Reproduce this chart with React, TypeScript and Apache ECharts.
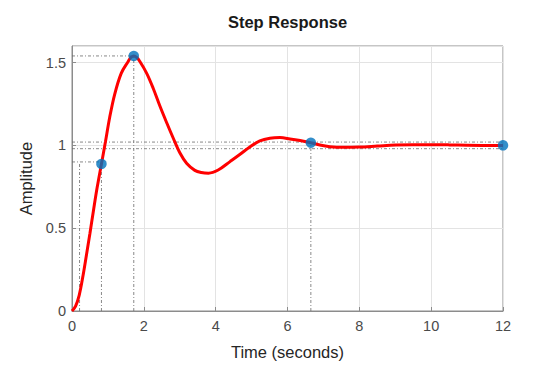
import React, { useEffect, useRef } from "react";
import * as echarts from "echarts";

const timeValues = [
  0, 0.1, 0.2, 0.3, 0.4, 0.5, 0.6, 0.7, 0.82, 0.93, 1.05, 1.19, 1.37, 1.56, 1.64,
  1.72, 1.8, 1.89, 2.08, 2.26, 2.45, 2.64, 2.82, 3.01, 3.19, 3.42, 3.6, 3.8, 4.07,
  4.4, 4.68, 4.96, 5.23, 5.51, 5.79, 6.07, 6.35, 6.65, 6.9, 7.18, 7.55, 8.0, 8.5,
  9.0, 9.5, 10.0, 10.5, 11.0, 11.5, 12.0,
];
const amplitudeValues = [
  0, 0.03, 0.095, 0.205, 0.335, 0.47, 0.61, 0.745, 0.888, 1.02, 1.17, 1.31, 1.435,
  1.505, 1.531, 1.54, 1.531, 1.506, 1.435, 1.345, 1.236, 1.135, 1.043, 0.952, 0.892,
  0.849, 0.836, 0.832, 0.851, 0.902, 0.946, 0.992, 1.027, 1.043, 1.047, 1.039,
  1.029, 1.016, 1.002, 0.992, 0.988, 0.99, 0.996, 1.002, 1.004, 1.004, 1.003,
  1.001, 1.0, 1.0,
];

const xTicks = [0, 2, 4, 6, 8, 10, 12];
const yTicks = [0, 0.5, 1, 1.5];

// Characteristic points (rise time, peak, settling, final value)
const riseStartTime = 0.21;
const riseEndTime = 0.82;
const riseLevel = 0.9;
const riseAmp = 0.888;
const peakTime = 1.72;
const peakAmp = 1.54;
const settleTime = 6.65;
const settleAmp = 1.016;
const settleBand = [0.98, 1.02];
const finalTime = 12;
const finalAmp = 1.0;

const markerPoints = [
  [riseEndTime, riseAmp],
  [peakTime, peakAmp],
  [settleTime, settleAmp],
  [finalTime, finalAmp],
];

const guideLines = [
  [[0, riseLevel], [riseEndTime, riseLevel]],
  [[riseStartTime, 0], [riseStartTime, riseLevel]],
  [[riseEndTime, 0], [riseEndTime, riseAmp]],
  [[0, peakAmp], [peakTime, peakAmp]],
  [[peakTime, 0], [peakTime, peakAmp]],
  [[0, settleBand[0]], [finalTime, settleBand[0]]],
  [[0, settleBand[1]], [finalTime, settleBand[1]]],
  [[settleTime, 0], [settleTime, settleAmp]],
];

const FONT = "'Liberation Sans', Arial, Helvetica, sans-serif";

export default function App() {
  const ref = useRef<HTMLDivElement>(null);
  useEffect(() => {
    if (!ref.current) return;
    const chart = echarts.init(ref.current, null, { renderer: "svg" });
    const guideSeries = guideLines.map((seg) => ({
      type: "line",
      data: seg,
      symbol: "none",
      silent: true,
      z: 1,
      lineStyle: { color: "#6a6a6a", width: 0.8, type: [3, 2, 1, 2] },
    }));
    chart.setOption({
      animation: false,
      backgroundColor: "#ffffff",
      textStyle: { fontFamily: FONT },
      graphic: [
        {
          type: "text",
          x: 287.5,
          y: 22,
          style: {
            text: "Step Response",
            textAlign: "center",
            textVerticalAlign: "middle",
            fontFamily: FONT,
            fontWeight: "bold",
            fontSize: 16.5,
            fill: "#1a1a1a",
          },
        },
      ],
      grid: {
        left: 72,
        right: 52,
        top: 46,
        bottom: 62,
        show: true,
        borderColor: "#8c8c8c",
        borderWidth: 1,
        backgroundColor: "transparent",
      },
      xAxis: {
        type: "value",
        min: 0,
        max: 12,
        interval: 2,
        name: "Time (seconds)",
        nameLocation: "middle",
        nameGap: 32,
        nameTextStyle: { fontFamily: FONT, fontSize: 16.5, color: "#262626" },
        axisLine: { show: true, onZero: false, lineStyle: { color: "#8c8c8c", width: 1 } },
        axisTick: { show: true, inside: true, length: 4, lineStyle: { color: "#8c8c8c" } },
        axisLabel: {
          margin: 7,
          fontFamily: FONT,
          fontSize: 14.5,
          color: "#4a4a4a",
          formatter: (v: number) => (xTicks.includes(v) ? String(v) : ""),
        },
        splitLine: { show: true, lineStyle: { color: "#e3e3e3", width: 1 } },
      },
      yAxis: {
        type: "value",
        min: 0,
        max: 1.6,
        interval: 0.5,
        name: "Amplitude",
        nameLocation: "middle",
        nameGap: 32,
        nameTextStyle: { fontFamily: FONT, fontSize: 16.5, color: "#262626" },
        axisLine: { show: true, onZero: false, lineStyle: { color: "#8c8c8c", width: 1 } },
        axisTick: { show: true, inside: true, length: 4, lineStyle: { color: "#8c8c8c" } },
        axisLabel: {
          margin: 6,
          fontFamily: FONT,
          fontSize: 14.5,
          color: "#4a4a4a",
          showMaxLabel: false,
          formatter: (v: number) => (yTicks.includes(v) ? String(v) : ""),
        },
        splitLine: { show: true, lineStyle: { color: "#e3e3e3", width: 1 } },
      },
      series: [
        ...guideSeries,
        {
          type: "line",
          data: timeValues.map((t, i) => [t, amplitudeValues[i]]),
          symbol: "none",
          smooth: 0.35,
          z: 3,
          lineStyle: { color: "#ff0000", width: 3 },
        },
        {
          type: "scatter",
          data: markerPoints,
          symbol: "circle",
          symbolSize: 10.5,
          clip: false,
          z: 4,
          itemStyle: { color: "#0072BD" },
        },
      ],
    });
    return () => chart.dispose();
  }, []);
  return (
    <div
      ref={ref}
      style={{ position: "fixed", left: 0, top: 0, width: 555, height: 373 }}
    />
  );
}
